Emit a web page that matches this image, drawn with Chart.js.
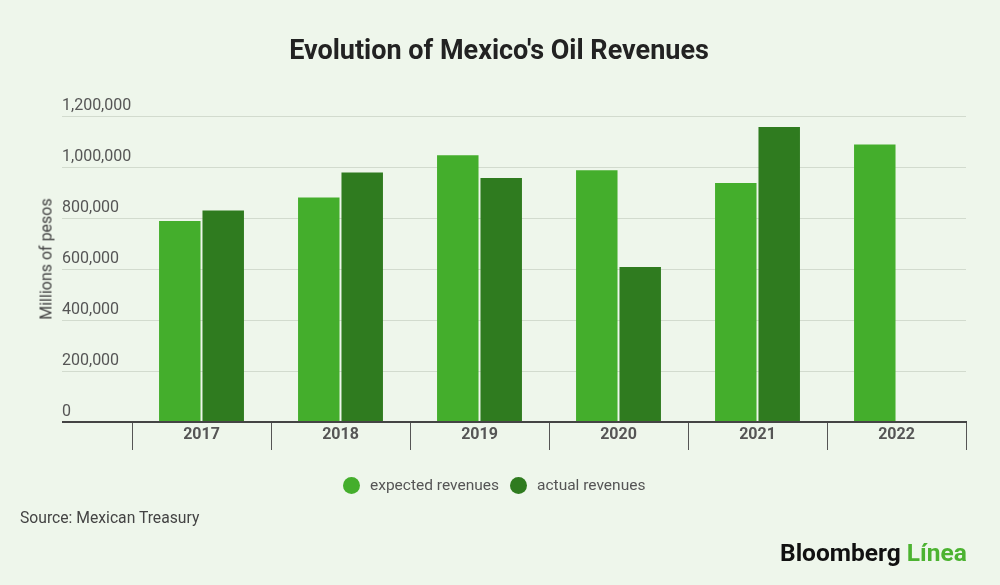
<!DOCTYPE html>
<html>
<head>
<meta charset="utf-8">
<script src="https://cdn.jsdelivr.net/npm/chart.js@4.4.1/dist/chart.umd.min.js"></script>
<style>
  html, body { margin: 0; padding: 0; background: #eef6eb; }
  #wrap { position: relative; width: 1000px; height: 585px; font-family: Roboto, sans-serif; }
  #chart { position: absolute; left: 0; top: 0; }
  #title {
    position: absolute; left: 499px; top: 50px; transform: translate(-50%, -50%);
    font-size: 27px; font-weight: bold; color: #222; white-space: nowrap;
  }
  #ytitle {
    position: absolute; left: 46px; top: 259px; color: #444; font-size: 16px;
    transform: translate(-50%, -50%) rotate(-90deg); white-space: nowrap;
  }
  #legend {
    position: absolute; left: 343px; top: 485px; transform: translateY(-50%);
    display: flex; align-items: center; font-size: 15.5px; color: #555; white-space: nowrap;
  }
  #legend .dot { width: 17px; height: 17px; border-radius: 50%; margin-right: 10px; }
  #legend .item { display: flex; align-items: center; margin-right: 11px; }
  #source { position: absolute; left: 20px; top: 508px; color: #444; font-size: 15.7px; }
  #logo {
    position: absolute; left: 780px; top: 552px; transform: translateY(-50%);
    font-size: 24.5px; font-weight: bold; color: #111; white-space: nowrap;
  }
  #logo span { color: #4cb331; }
</style>
</head>
<body>
<div id="wrap">
  <canvas id="chart" width="1000" height="585"></canvas>
  <div id="title">Evolution of Mexico's Oil Revenues</div>
  <div id="ytitle">Millions of pesos</div>
  <div id="legend"></div>
  <div id="source">Source: Mexican Treasury</div>
  <div id="logo">Bloomberg <span>Línea</span></div>
</div>
<script>
const years = ["2017", "2018", "2019", "2020", "2021", "2022"];
const expectedRevenues = [788000, 880000, 1046000, 987000, 937000, 1088000];
const actualRevenues = [829000, 978000, 957000, 608000, 1157000, null];
const yTicks = [0, 200000, 400000, 600000, 800000, 1000000, 1200000];
const seriesNames = ["expected revenues", "actual revenues"];
const seriesColors = ["#44ae2c", "#2f7b1f"];

const chartCanvas = document.getElementById("chart");
const legendBox = document.getElementById("legend");
Chart.defaults.font.family = "Roboto, sans-serif";

const chart = new Chart(chartCanvas, {
  type: "bar",
  data: {
    labels: years,
    datasets: [
      {
        label: seriesNames[0],
        data: expectedRevenues,
        backgroundColor: seriesColors[0],
        borderWidth: 0,
        categoryPercentage: 0.625,
        barPercentage: 0.955,
      },
      {
        label: seriesNames[1],
        data: actualRevenues,
        backgroundColor: seriesColors[1],
        borderWidth: 0,
        categoryPercentage: 0.625,
        barPercentage: 0.955,
      },
    ],
  },
  options: {
    responsive: false,
    animation: false,
    layout: { padding: { top: 116, left: 62, right: 34, bottom: 133 } },
    plugins: {
      legend: { display: false },
      tooltip: { enabled: false },
    },
    scales: {
      x: {
        z: 1,
        afterFit: (scale) => { scale.height = 30; },
        border: { display: true, color: "#444", width: 2 },
        grid: { offset: true, drawOnChartArea: false, tickLength: 28, color: "#555", lineWidth: 1 },
        ticks: { padding: -25, color: "#555", font: { size: 16, weight: "bold" } },
      },
      y: {
        min: 0,
        max: 1200000,
        afterBuildTicks: (scale) => { scale.ticks = yTicks.map((v) => ({ value: v })); },
        afterFit: (scale) => { scale.width = 70; },
        border: { display: false },
        grid: {
          color: (ctx) => (ctx.tick && ctx.tick.value === 0 ? "#444" : "#d2dbce"),
          lineWidth: (ctx) => (ctx.tick && ctx.tick.value === 0 ? 2 : 1),
          tickLength: 70,
        },
        ticks: {
          crossAlign: "far",
          labelOffset: -10,
          padding: 0,
          color: "#555",
          font: { size: 16 },
          callback: (v) => v.toLocaleString("en-US"),
        },
      },
    },
  },
});

// legend in html, so it can sit where the original one sits
chart.data.datasets.forEach((ds) => {
  const item = document.createElement("div");
  item.classList.add("item");
  const dot = document.createElement("div");
  dot.classList.add("dot");
  dot.style.background = ds.backgroundColor;
  const txt = document.createElement("span");
  txt.textContent = ds.label;
  item.appendChild(dot);
  item.appendChild(txt);
  legendBox.appendChild(item);
});
</script>
</body>
</html>
